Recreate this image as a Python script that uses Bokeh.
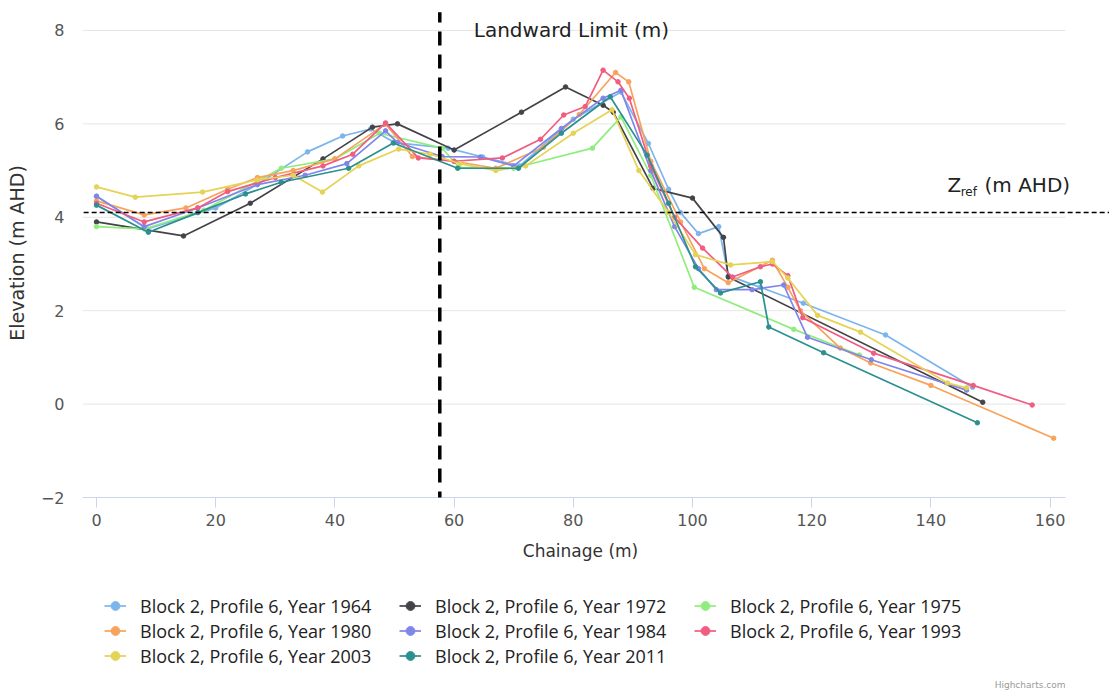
from bokeh.plotting import figure
from bokeh.models import Range1d, Legend, LegendItem, Arrow, Label, FixedTicker
from bokeh.layouts import column
from bokeh.embed import file_html
from bokeh.resources import INLINE

# ---------------- data ----------------
names = ["Block 2, Profile 6, Year 1964", "Block 2, Profile 6, Year 1972",
         "Block 2, Profile 6, Year 1975", "Block 2, Profile 6, Year 1980",
         "Block 2, Profile 6, Year 1984", "Block 2, Profile 6, Year 1993",
         "Block 2, Profile 6, Year 2003", "Block 2, Profile 6, Year 2011"]
colors = ["#7cb5ec", "#434348", "#90ed7d", "#f7a35c", "#8085e9", "#f15c80", "#e4d354", "#2b908f"]

x1964 = [0, 8.5, 20, 27, 35.4, 41.3, 46, 50, 59, 64.8, 71, 80, 88, 92.6, 96, 98, 101, 104.4, 106, 111.4, 118.6, 132.4, 147]
y1964 = [4.45, 3.75, 4.2, 4.7, 5.4, 5.74, 5.89, 5.6, 5.48, 5.29, 5.1, 6.1, 6.68, 5.58, 4.6, 4.1, 3.65, 3.8, 2.75, 2.5, 2.16, 1.48, 0.36]

x1972 = [0, 14.6, 25.8, 38, 46.3, 50.5, 60, 71.3, 78.7, 85, 86.7, 93.4, 100, 105.2, 106, 148.7]
y1972 = [3.9, 3.6, 4.3, 5.25, 5.93, 6.0, 5.44, 6.25, 6.79, 6.4, 6.25, 4.62, 4.41, 3.57, 2.72, 0.04]

x1975 = [0, 8, 18, 31, 40, 47.5, 58, 60.8, 70, 83.2, 88, 93, 100.3, 117, 128]
y1975 = [3.8, 3.75, 4.15, 5.05, 5.25, 5.8, 5.48, 5.07, 5.05, 5.48, 6.15, 4.9, 2.5, 1.6, 1.05]

x1980 = [0, 8, 15, 22, 27, 33, 40, 48.5, 53, 60, 67, 75, 81, 87.1, 89.3, 93, 98, 102, 106, 113.4, 116, 118.1, 124.8, 129.9, 140, 160.6]
y1980 = [4.35, 4.05, 4.2, 4.6, 4.85, 5.0, 5.25, 6.0, 5.3, 5.2, 5.05, 5.5, 6.2, 7.1, 6.9, 5.2, 3.9, 2.9, 2.6, 3.08, 2.5, 2.0, 1.2, 0.88, 0.4, -0.73]

x1984 = [0, 8, 17, 27, 35, 42, 48.5, 50.5, 58, 64.4, 70, 78, 85, 88, 93, 97, 101, 104, 110, 115.3, 119.3, 130, 146]
y1984 = [4.45, 3.8, 4.2, 4.7, 4.9, 5.15, 5.85, 5.6, 5.3, 5.29, 5.1, 5.9, 6.55, 6.72, 5.0, 3.8, 2.9, 2.45, 2.45, 2.55, 1.43, 0.95, 0.3]

x1993 = [0, 8, 17, 22, 30, 38, 43, 48.5, 54, 60, 68.1, 74.5, 78.4, 82, 85, 87.5, 89.4, 93, 97, 101.7, 106.7, 111.4, 113.4, 116, 118.5, 130.4, 147.1, 157]
y1993 = [4.3, 3.9, 4.2, 4.55, 4.85, 5.1, 5.35, 6.02, 5.27, 5.2, 5.27, 5.67, 6.19, 6.37, 7.15, 6.9, 6.55, 5.1, 4.0, 3.34, 2.72, 2.94, 3.0, 2.75, 1.85, 1.09, 0.4, -0.02]

x2003 = [0, 6.5, 17.8, 27, 33, 37.9, 44, 50.7, 56, 61, 67, 72, 80, 86.5, 91, 96, 100.5, 106.4, 113.4, 116, 121, 128.2, 142.8, 146]
y2003 = [4.65, 4.43, 4.54, 4.8, 4.9, 4.54, 5.1, 5.46, 5.35, 5.15, 5.0, 5.1, 5.8, 6.3, 5.0, 4.1, 3.2, 2.98, 3.05, 2.7, 1.9, 1.54, 0.45, 0.35]

x2011 = [0, 8.7, 17, 25, 31, 42.3, 49.8, 60.6, 70.8, 78, 86.2, 92.4, 96, 100.5, 104.7, 111.4, 112.8, 122, 147.8]
y2011 = [4.26, 3.68, 4.1, 4.5, 4.75, 5.05, 5.59, 5.05, 5.05, 5.8, 6.58, 5.33, 4.3, 2.94, 2.38, 2.62, 1.65, 1.1, -0.4]

xs = [x1964, x1972, x1975, x1980, x1984, x1993, x2003, x2011]
ys = [y1964, y1972, y1975, y1980, y1984, y1993, y2003, y2011]

x_ticks = [0, 20, 40, 60, 80, 100, 120, 140, 160]
y_ticks = [-2, 0, 2, 4, 6, 8]
grid_values = [0, 2, 4, 6, 8]
landward_limit = 57.6
z_ref = 4.1

X_MIN, X_MAX_AXIS, X_MAX_FRAME = -2.35, 162.6, 169.97
Y_MIN, Y_MAX = -2.0, 8.47

# ---------------- main figure ----------------
p = figure(frame_width=1027, frame_height=489,
           x_range=Range1d(X_MIN, X_MAX_FRAME), y_range=Range1d(Y_MIN, Y_MAX),
           output_backend="svg", toolbar_location=None,
           min_border_left=82, min_border_right=0, min_border_top=8, min_border_bottom=0)
p.outline_line_color = None
p.background_fill_color = "white"
p.border_fill_color = "white"
p.xgrid.grid_line_color = None
p.ygrid.grid_line_color = None

# horizontal grid lines, limited to the axis extent
p.segment(x0=[X_MIN] * len(grid_values), y0=grid_values, x1=[X_MAX_AXIS] * len(grid_values), y1=grid_values,
          line_color="#e6e6e6", line_width=1)

p.xaxis.ticker = FixedTicker(ticks=x_ticks)
p.yaxis.ticker = FixedTicker(ticks=y_ticks)
p.xaxis.bounds = (X_MIN, X_MAX_AXIS)
p.xaxis.axis_line_color = "#ccd6eb"
p.xaxis.major_tick_line_color = "#ccd6eb"
p.xaxis.major_tick_out = 10
p.xaxis.major_tick_in = 0
p.xaxis.minor_tick_line_color = None
p.xaxis.major_label_text_font = "DejaVu Sans"
p.xaxis.major_label_text_font_size = "16px"
p.xaxis.major_label_text_color = "#555555"
p.xaxis.major_label_standoff = 6

p.yaxis.axis_line_color = None
p.yaxis.major_tick_line_color = None
p.yaxis.minor_tick_line_color = None
p.yaxis.major_label_text_font = "DejaVu Sans"
p.yaxis.major_label_text_font_size = "16px"
p.yaxis.major_label_text_color = "#555555"
p.yaxis.major_label_standoff = 12
p.yaxis.axis_label = "Elevation (m AHD)"
p.yaxis.axis_label_text_font = "DejaVu Sans"
p.yaxis.axis_label_text_font_size = "19px"
p.yaxis.axis_label_text_font_style = "normal"
p.yaxis.axis_label_text_color = "#333333"
p.yaxis.axis_label_standoff = 10

for c, x, y in zip(colors, xs, ys):
    p.line(x, y, line_color=c, line_width=1.7)
    p.scatter(x, y, size=4.5, fill_color=c, line_color=c)

# reference lines
p.add_layout(Arrow(end=None, x_start=-3.5, y_start=z_ref, x_end=171, y_end=z_ref,
                   line_color="black", line_width=1.5, line_dash="5 3"))
p.add_layout(Arrow(end=None, x_start=landward_limit, y_start=-2.17, x_end=landward_limit, y_end=8.39,
                   line_color="black", line_width=3.5, line_dash="14 9"))

p.add_layout(Label(x=63.3, y=8.0, text="Landward Limit (m)", text_font="DejaVu Sans", text_font_size="20px",
                   text_color="#222222", text_baseline="middle"))
p.add_layout(Label(x=142.8, y=4.69, text="Z", text_font="DejaVu Sans", text_font_size="20px",
                   text_color="#222222", text_baseline="middle"))
p.add_layout(Label(x=145.0, y=4.55, text="ref", text_font="DejaVu Sans", text_font_size="12px",
                   text_color="#222222", text_baseline="middle"))
p.add_layout(Label(x=149.0, y=4.69, text="(m AHD)", text_font="DejaVu Sans", text_font_size="20px",
                   text_color="#222222", text_baseline="middle"))

# ---------------- axis title + legend figure ----------------
leg_h = 166
q = figure(width=1109, height=leg_h, x_range=Range1d(0, 1), y_range=Range1d(0, 1),
           output_backend="svg", toolbar_location=None, x_axis_type=None, y_axis_type=None,
           min_border=0)
q.outline_line_color = None
q.xgrid.grid_line_color = None
q.ygrid.grid_line_color = None

# frame of q is aligned with p's frame (starts at x = 82 px)
q.add_layout(Label(x=498, y=144, x_units="screen", y_units="screen", text="Chainage (m)",
                   text_align="center", text_baseline="middle", text_font="DejaVu Sans",
                   text_font_size="17px", text_color="#333333"))

items = []
for name, c in zip(names, colors):
    ln = q.line([-10], [-10], line_color=c, line_width=1.7)
    sc = q.scatter([-10], [-10], size=5, fill_color=c, line_color=c)
    items.append(LegendItem(label=name, renderers=[ln, sc]))

legend = Legend(items=items, ncols=3, orientation="horizontal", location=(22, 26))
legend.label_text_font = "Open Sans"
legend.label_text_font_size = "18px"
legend.label_text_color = "#222222"
legend.label_width = 259
legend.label_height = 25
legend.glyph_width = 22
legend.glyph_height = 25
legend.label_standoff = 14
legend.spacing = 0
legend.padding = 0
legend.margin = 0
legend.border_line_color = None
legend.background_fill_alpha = 0
q.add_layout(legend, "center")

q.add_layout(Label(x=983, y=10, x_units="screen", y_units="screen", text="Highcharts.com",
                   text_align="right", text_baseline="middle", text_font="DejaVu Sans",
                   text_font_size="9px", text_color="#999999"))

layout = column(p, q, spacing=0)
open("out.html", "w").write(file_html(layout, INLINE))
